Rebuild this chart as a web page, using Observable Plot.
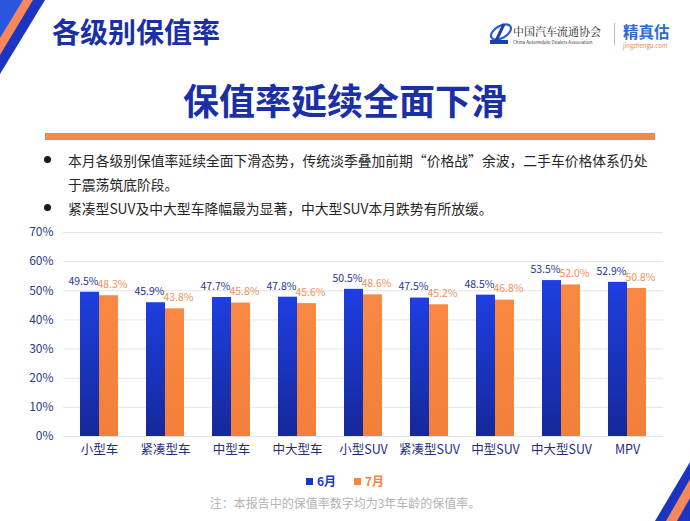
<!DOCTYPE html>
<html>
<head>
<meta charset="utf-8">
<script src="https://cdn.jsdelivr.net/npm/d3@7"></script>
<script src="https://cdn.jsdelivr.net/npm/@observablehq/plot@0.6"></script>
<style>
  html, body { margin: 0; padding: 0; background: #fff; }
  #page { position: relative; width: 690px; height: 521px; overflow: hidden; background: #fff;
          font-family: "Noto Sans CJK SC", "Noto Sans", sans-serif; }
  .abs { position: absolute; white-space: nowrap; }
  #header { left: 52px; top: 14px; font-size: 28px; line-height: 34px; font-weight: bold; color: #1b2fa6; }
  #title { left: 0; width: 690px; text-align: center; top: 79px; font-size: 36px; line-height: 40px; font-weight: bold; color: #1b2fa6; }
  #rule { left: 45px; top: 133px; width: 610px; height: 7px; background: #f5874a; }
  .bullet { left: 68px; font-size: 13.8px; line-height: 24px; color: #262626; }
  .dot { width: 7px; height: 7px; border-radius: 50%; background: #1a1a1a; left: 44px; }
  #chart { left: 0; top: 220px; }
  #legend { left: 0; width: 690px; top: 473px; text-align: center; font-size: 12px; line-height: 16px; font-weight: bold; }
  #legend span.sw { display: inline-block; width: 7px; height: 7px; margin-right: 4px; vertical-align: 1px; }
  #note { left: 0; width: 690px; text-align: center; top: 495px; font-size: 12px; line-height: 16px; color: #b3b3b3; }
</style>
</head>
<body>
<div id="page">
  <svg class="abs" style="left:0;top:0" width="60" height="90">
    <polygon points="0,0 45,0 0,74" fill="#1b35c2"/>
    <polygon points="0,0 33,0 0,55" fill="#f5875a"/>
    <polygon points="0,0 23,0 0,38" fill="#2a56de"/>
  </svg>
  <svg class="abs" style="left:630px;top:440px" width="60" height="81">
    <polygon points="25,81 60,22 60,81" fill="#1b35c2"/>
    <polygon points="36,81 60,39 60,81" fill="#f5875a"/>
    <polygon points="47,81 60,58 60,81" fill="#1b35c2"/>
  </svg>

  <div id="header" class="abs">各级别保值率</div>

  <!-- logos -->
  <svg class="abs" style="left:488px;top:21px" width="26" height="24">
    <ellipse cx="13" cy="11" rx="11" ry="6" fill="none" stroke="#2a5fc8" stroke-width="2.2" transform="rotate(-30 13 11)"/>
    <path d="M8 20 L16 3" stroke="#1b3fae" stroke-width="3"/>
    <rect x="2" y="19" width="18" height="4" fill="#1b3fae"/>
  </svg>
  <div class="abs" style="left:513px;top:24px;font-size:11px;line-height:14px;color:#222;font-family:'Noto Serif CJK SC','Noto Sans CJK SC',serif;">中国汽车流通协会</div>
  <div class="abs" style="left:513px;top:39px;font-size:4.5px;line-height:6px;color:#444;">China Automobile Dealers Association</div>
  <div class="abs" style="left:614px;top:23px;width:1px;height:22px;background:#bbb;"></div>
  <div class="abs" style="left:623px;top:23px;font-size:15.5px;line-height:17px;font-weight:bold;color:#2e6bd0;">精真估</div>
  <div class="abs" style="left:623px;top:43px;font-size:6px;line-height:6px;color:#f08a4a;">jingzhengu.com</div>

  <div id="title" class="abs">保值率延续全面下滑</div>
  <div id="rule" class="abs"></div>

  <div class="abs dot" style="top:156px"></div>
  <div class="abs bullet" style="top:148px">本月各级别保值率延续全面下滑态势，传统淡季叠加前期“价格战”余波，二手车价格体系仍处<br>于震荡筑底阶段。</div>
  <div class="abs dot" style="top:204px"></div>
  <div class="abs bullet" style="top:196px">紧凑型SUV及中大型车降幅最为显著，中大型SUV本月跌势有所放缓。</div>

  <div id="chart" class="abs"></div>

  <div id="legend" class="abs"></div>
  <div id="note" class="abs">注：本报告中的保值率数字均为3年车龄的保值率。</div>
</div>
<script>
const categories = ["小型车", "紧凑型车", "中型车", "中大型车", "小型SUV", "紧凑型SUV", "中型SUV", "中大型SUV", "MPV"];
const june = [49.5, 45.9, 47.7, 47.8, 50.5, 47.5, 48.5, 53.5, 52.9];
const july = [48.3, 43.8, 45.8, 45.6, 48.6, 45.2, 46.8, 52.0, 50.8];
const months = ["6月", "7月"];
const yTicks = [0, 10, 20, 30, 40, 50, 60, 70];
const monthColors = ["#1a36c8", "#f5853f"];
const labelColors = ["#27358f", "#f0915a"];

const juneRows = categories.map((c, i) => ({cat: c, month: months[0], value: june[i]}));
const julyRows = categories.map((c, i) => ({cat: c, month: months[1], value: july[i]}));

const font = "'Noto Sans CJK SC', 'Noto Sans', sans-serif";

const defs = () => {
  const ns = "http://www.w3.org/2000/svg";
  const d = document.createElementNS(ns, "defs");
  d.innerHTML = `<linearGradient id="gBlue" x1="0" y1="0" x2="0" y2="1">
      <stop offset="0" stop-color="#1e3fe0"/><stop offset="1" stop-color="#15289a"/></linearGradient>
    <linearGradient id="gOrange" x1="0" y1="0" x2="0" y2="1">
      <stop offset="0" stop-color="#f88843"/><stop offset="1" stop-color="#f2803a"/></linearGradient>`;
  return d;
};

const chart = Plot.plot({
  width: 690,
  height: 240,
  marginTop: 12,
  marginBottom: 24,
  marginLeft: 63,
  marginRight: 27,
  style: {fontFamily: font, background: "transparent", overflow: "visible"},
  x: {domain: categories, paddingInner: 0.43, paddingOuter: 0.215, axis: null, label: null},
  y: {domain: [0, 70], axis: null, label: null},
  marks: [
    defs,
    Plot.gridY(yTicks, {stroke: "#e4e4e4", strokeOpacity: 1, strokeWidth: 1}),
    Plot.barY(juneRows, {x: "cat", y: "value", fill: "url(#gBlue)", insetRight: 19}),
    Plot.barY(julyRows, {x: "cat", y: "value", fill: "url(#gOrange)", insetLeft: 19}),
    Plot.text(juneRows, {x: "cat", y: "value", text: d => d.value.toFixed(1) + "%", dx: -16, dy: -11, fill: labelColors[0], fontSize: 10.5}),
    Plot.text(julyRows, {x: "cat", y: "value", text: d => d.value.toFixed(1) + "%", dx: 13, dy: -11, fill: labelColors[1], fontSize: 10.5}),
    Plot.axisY(yTicks, {tickSize: 0, tickPadding: 10, tickFormat: d => d + "%", color: "#2b3a8f", fontSize: 12, label: null}),
    Plot.axisX({tickSize: 0, tickPadding: 9, color: "#1f2d80", fontSize: 12.5, label: null})
  ]
});
document.getElementById("chart").appendChild(chart);

const legend = document.getElementById("legend");
legend.innerHTML = months.map((m, i) =>
  `<span style="color:${monthColors[i]};margin:0 9px;"><span class="sw" style="background:${monthColors[i]}"></span>${m}</span>`
).join("");
</script>
</body>
</html>
